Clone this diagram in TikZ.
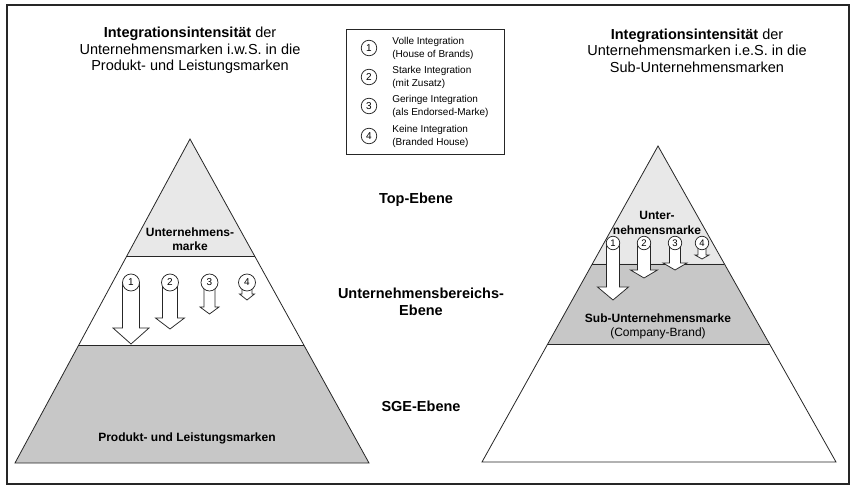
\documentclass[tikz,border=0pt]{standalone}
\usepackage{fontspec}
\setmainfont{Liberation Sans}
\usetikzlibrary{calc}
\definecolor{ink}{gray}{0.15}
\definecolor{lightfill}{gray}{0.91}
\definecolor{darkfill}{gray}{0.78}
\newcommand{\blkarrow}[6]{%
  \draw[blockarrow] (#1-#3,#2) -- (#1-#3,#4) -- (#1-#5,#4) -- (#1,#6) -- (#1+#5,#4) -- (#1+#3,#4) -- (#1+#3,#2) -- cycle;}
\begin{document}
\begin{tikzpicture}[x=1bp,y=-1bp,line width=0.8bp,
  titletext/.style={align=center,font=\fontsize{14.5bp}{16.5bp}\selectfont,inner sep=0},
  leveltext/.style={align=center,font=\bfseries\fontsize{14.5bp}{17bp}\selectfont,inner sep=0},
  pyrtext/.style={align=center,font=\bfseries\fontsize{12bp}{14bp}\selectfont,inner sep=0},
  numcirc/.style={circle,draw=ink,fill=white,line width=0.75bp,minimum size=15.5bp,inner sep=0,font=\fontsize{10bp}{10bp}\selectfont},
  legtext/.style={align=left,anchor=west,font=\fontsize{10bp}{13bp}\selectfont,inner sep=0},
  blockarrow/.style={draw=ink,fill=white,line width=0.75bp,line join=miter}]
\useasboundingbox (0,0) rectangle (852,486);
\draw[ink,line width=1.2bp] (7,5) rectangle (849,484);

% titles
\node[titletext] (tl) at (190,50.5) {\textbf{Integrationsintensität} der\\Unternehmensmarken i.w.S. in die\\Produkt- und Leistungsmarken};
\node[titletext] (tr) at (697,50.5) {\textbf{Integrationsintensität} der\\Unternehmensmarken i.e.S. in die\\Sub-Unternehmensmarken};

% legend
\draw[ink] (346,29) rectangle (504,154);
\node[numcirc] (g1) at (369,48) {1};
\node[numcirc] (g2) at (369,77) {2};
\node[numcirc] (g3) at (369,106) {3};
\node[numcirc] (g4) at (369,136) {4};
\node[legtext] (gt1) at (392,48.5) {Volle Integration\\(House of Brands)};
\node[legtext] (gt2) at (392,77.5) {Starke Integration\\(mit Zusatz)};
\node[legtext] (gt3) at (392,106.5) {Geringe Integration\\(als Endorsed-Marke)};
\node[legtext] (gt4) at (392,136.5) {Keine Integration\\(Branded House)};

% level labels
\node[leveltext] (lv1) at (416,200) {Top-Ebene};
\node[leveltext] (lv2) at (421,301.5) {Unternehmensbereichs-\\Ebene};
\node[leveltext] (lv3) at (421,406) {SGE-Ebene};

% left pyramid
\coordinate (LA) at (190,139);
\coordinate (LBL) at (15,463);
\coordinate (LBR) at (369,463);
\coordinate (L1l) at ($(LA)!0.3611!(LBL)$);
\coordinate (L1r) at ($(LA)!0.3611!(LBR)$);
\coordinate (L2l) at ($(LA)!0.6358!(LBL)$);
\coordinate (L2r) at ($(LA)!0.6358!(LBR)$);
\fill[lightfill] (LA) -- (L1l) -- (L1r) -- cycle;
\fill[darkfill] (L2l) -- (LBL) -- (LBR) -- (L2r) -- cycle;
\draw[ink] (LA) -- (LBL) -- (LBR) -- cycle;
\draw[ink] (L1l) -- (L1r);
\draw[ink] (L2l) -- (L2r);
\node[pyrtext] (lum) at (190,239) {Unternehmens-\\marke};
\node[pyrtext] (lpl) at (187,438) {Produkt- und Leistungsmarken};
\blkarrow{131}{283}{8.5}{328}{18}{344}
\blkarrow{170}{283}{7.5}{318}{14.5}{329}
\blkarrow{209.5}{283}{5.5}{307}{9.5}{314}
\blkarrow{247}{283}{5}{294}{7.5}{300}
\node[numcirc,minimum size=17bp] (lc1) at (131,282.5) {1};
\node[numcirc,minimum size=17bp] (lc2) at (170,282.5) {2};
\node[numcirc,minimum size=17bp] (lc3) at (209.5,282.5) {3};
\node[numcirc,minimum size=17bp] (lc4) at (247,282.5) {4};

% right pyramid
\coordinate (RA) at (658,146);
\coordinate (RBL) at (482,462);
\coordinate (RBR) at (836,462);
\coordinate (R1l) at ($(RA)!0.3734!(RBL)$);
\coordinate (R1r) at ($(RA)!0.3734!(RBR)$);
\coordinate (R2l) at ($(RA)!0.6266!(RBL)$);
\coordinate (R2r) at ($(RA)!0.6266!(RBR)$);
\fill[lightfill] (RA) -- (R1l) -- (R1r) -- cycle;
\fill[darkfill] (R1l) -- (R2l) -- (R2r) -- (R1r) -- cycle;
\draw[ink] (RA) -- (RBL) -- (RBR) -- cycle;
\draw[ink] (R1l) -- (R1r);
\draw[ink] (R2l) -- (R2r);
\node[pyrtext,font=\bfseries\fontsize{12bp}{15bp}\selectfont] (rum) at (657,222.5) {Unter-\\nehmensmarke};
\node[pyrtext,font=\fontsize{12bp}{13.5bp}\selectfont] (rsu) at (658,326.5) {\textbf{Sub-Unternehmensmarke}\\(Company-Brand)};
\blkarrow{613}{243}{6.5}{287}{15.5}{300}
\blkarrow{644}{243}{6.5}{270}{13.5}{278}
\blkarrow{675}{243}{5.5}{263}{12}{270}
\blkarrow{702}{243}{4}{255}{7}{259}
\node[numcirc,minimum size=13.5bp,font=\fontsize{9.5bp}{9.5bp}\selectfont] (rc1) at (613,243) {1};
\node[numcirc,minimum size=13.5bp,font=\fontsize{9.5bp}{9.5bp}\selectfont] (rc2) at (644,243) {2};
\node[numcirc,minimum size=13.5bp,font=\fontsize{9.5bp}{9.5bp}\selectfont] (rc3) at (675,243) {3};
\node[numcirc,minimum size=13.5bp,font=\fontsize{9.5bp}{9.5bp}\selectfont] (rc4) at (702,243) {4};
\end{tikzpicture}
\end{document}
